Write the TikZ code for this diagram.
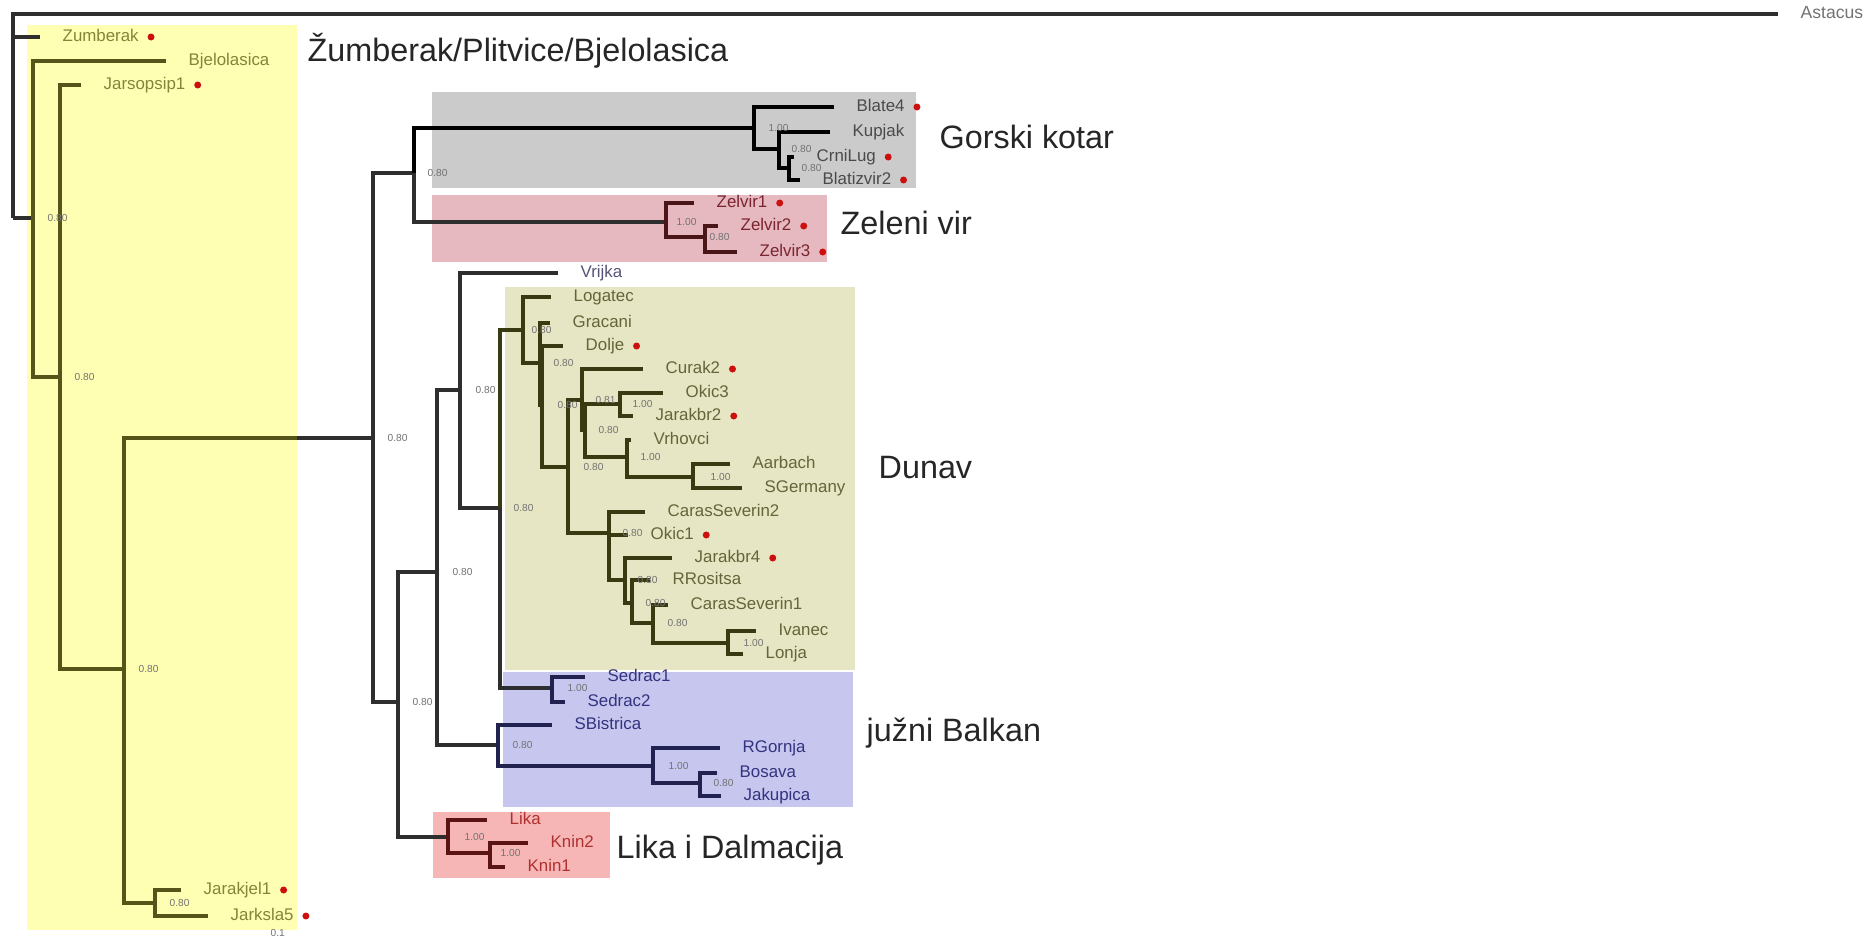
\documentclass[tikz,border=0pt]{standalone}
\usepackage{fontspec}
\setmainfont{Liberation Sans}
\usetikzlibrary{positioning}
\definecolor{cYel}{HTML}{FFFFB3}
\definecolor{cGrey}{HTML}{CBCBCB}
\definecolor{cZel}{HTML}{E6B9C1}
\definecolor{cDun}{HTML}{E6E6C4}
\definecolor{cBal}{HTML}{C6C6EE}
\definecolor{cLik}{HTML}{F7B6B6}
\definecolor{lDark}{HTML}{2E2E2E}
\definecolor{lYel}{HTML}{55551A}
\definecolor{lZel}{HTML}{4A1518}
\definecolor{lDun}{HTML}{3A3A12}
\definecolor{lBal}{HTML}{222250}
\definecolor{lLik}{HTML}{5A1414}
\definecolor{tYel}{HTML}{85853A}
\definecolor{tGrey}{HTML}{4A4A4A}
\definecolor{tZel}{HTML}{7A2530}
\definecolor{tDun}{HTML}{65653A}
\definecolor{tBal}{HTML}{333380}
\definecolor{tLik}{HTML}{B03030}
\definecolor{tVrj}{HTML}{55557A}
\definecolor{dotred}{HTML}{CC1010}
\tikzset{
  br/.style={line width=1pt, draw=lDark},
  ybr/.style={br, draw=lYel},
  gbr/.style={br, draw=black},
  zbr/.style={br, draw=lZel},
  dbr/.style={br, draw=lDun},
  bbr/.style={br, draw=lBal},
  lbr/.style={br, draw=lLik},
  leaf/.style={font=\fontsize{4.8}{5.5}\selectfont, anchor=west, inner xsep=2.2mm,
    inner ysep=0.3mm, text height=3.5pt, text depth=1pt},
  yleaf/.style={leaf, text=tYel},
  gleaf/.style={leaf, text=tGrey},
  zleaf/.style={leaf, text=tZel},
  dleaf/.style={leaf, text=tDun},
  bleaf/.style={leaf, text=tBal},
  lleaf/.style={leaf, text=tLik},
  dotm/.style={circle, fill=dotred, inner sep=0pt, minimum size=0.7mm},
  rd/.style={label={[dotm, xshift=-1.45mm]right:{}}},
  bs/.style={font=\fontsize{2.9}{3}\selectfont, inner sep=0pt, text=black!55},
  grp/.style={font=\fontsize{9.2}{11}\selectfont, anchor=mid west, inner sep=0pt, text=black!85}
}
\begin{document}
\begin{tikzpicture}[x=0.1mm,y=-0.1mm]
  \useasboundingbox (0,0) rectangle (1868,943);
  \fill[white] (0,0) rectangle (1868,943);

  % clade boxes
  \fill[cYel] (27,25) rectangle (297,930);
  \fill[cGrey] (432,92) rectangle (916,188);
  \fill[cZel] (432,195) rectangle (827,262);
  \fill[cDun] (505,287) rectangle (855,670);
  \fill[cBal] (503,672) rectangle (853,807);
  \fill[cLik] (433,812) rectangle (610,878);

  % internal nodes
  \coordinate (root) at (13,218);
  \coordinate (n33) at (33,218);
  \coordinate (n60) at (60,377);
  \coordinate (n124) at (124,669);
  \coordinate (njar) at (155,903);
  \coordinate (yedge) at (297,438);
  \coordinate (t) at (373,438);
  \coordinate (gz) at (414,173);
  \coordinate (gk) at (754,128);
  \coordinate (kup) at (779,149);
  \coordinate (crn) at (789,168);
  \coordinate (zel) at (666,222);
  \coordinate (zv2) at (705,237);
  \coordinate (m) at (398,702);
  \coordinate (k) at (437,572);
  \coordinate (lik) at (448,837);
  \coordinate (knin) at (490,853);
  \coordinate (v) at (460,390);
  \coordinate (sb) at (498,745);
  \coordinate (rg) at (653,766);
  \coordinate (bj) at (700,783);
  \coordinate (n500) at (500,508);
  \coordinate (sed) at (552,688);
  \coordinate (l) at (523,330);
  \coordinate (i) at (540,363);
  \coordinate (h) at (542,405);
  \coordinate (d5) at (568,467);
  \coordinate (c) at (582,400);
  \coordinate (dd) at (585,430);
  \coordinate (ok) at (620,404);
  \coordinate (vr) at (627,457);
  \coordinate (aa) at (693,477);
  \coordinate (cs) at (609,533);
  \coordinate (jk) at (625,580);
  \coordinate (rr) at (632,603);
  \coordinate (cs1) at (653,623);
  \coordinate (iv) at (728,643);

  % taxa
  \node[leaf, text=black!55, font=\fontsize{5}{6}\selectfont] (astacus) at (1778,14) {Astacus};
  \node[yleaf, rd] (zumberak) at (40,37) {Zumberak};
  \node[yleaf] (bjelolasica) at (166,61) {Bjelolasica};
  \node[yleaf, rd] (jarsopsip1) at (81,85) {Jarsopsip1};
  \node[yleaf, rd] (jarakjel1) at (181,890) {Jarakjel1};
  \node[yleaf, rd] (jarksla5) at (208,916) {Jarksla5};
  \node[gleaf, rd] (blate4) at (834,107) {Blate4};
  \node[gleaf] (kupjak) at (830,132) {Kupjak};
  \node[gleaf, rd] (crnilug) at (794,157) {CrniLug};
  \node[gleaf, rd] (blatizvir2) at (800,180) {Blatizvir2};
  \node[zleaf, rd] (zelvir1) at (694,203) {Zelvir1};
  \node[zleaf, rd] (zelvir2) at (718,226) {Zelvir2};
  \node[zleaf, rd] (zelvir3) at (737,252) {Zelvir3};
  \node[leaf, text=tVrj] (vrijka) at (558,273) {Vrijka};
  \node[dleaf] (logatec) at (551,297) {Logatec};
  \node[dleaf] (gracani) at (550,323) {Gracani};
  \node[dleaf, rd] (dolje) at (563,346) {Dolje};
  \node[dleaf, rd] (curak2) at (643,369) {Curak2};
  \node[dleaf] (okic3) at (663,393) {Okic3};
  \node[dleaf, rd] (jarakbr2) at (633,416) {Jarakbr2};
  \node[dleaf] (vrhovci) at (631,440) {Vrhovci};
  \node[dleaf] (aarbach) at (730,464) {Aarbach};
  \node[dleaf] (sgermany) at (742,488) {SGermany};
  \node[dleaf] (carasseverin2) at (645,512) {CarasSeverin2};
  \node[dleaf, rd] (okic1) at (628,535) {Okic1};
  \node[dleaf, rd] (jarakbr4) at (672,558) {Jarakbr4};
  \node[dleaf] (rrositsa) at (650,580) {RRositsa};
  \node[dleaf] (carasseverin1) at (668,605) {CarasSeverin1};
  \node[dleaf] (ivanec) at (756,631) {Ivanec};
  \node[dleaf] (lonja) at (743,654) {Lonja};
  \node[bleaf] (sedrac1) at (585,677) {Sedrac1};
  \node[bleaf] (sedrac2) at (565,702) {Sedrac2};
  \node[bleaf] (sbistrica) at (552,725) {SBistrica};
  \node[bleaf] (rgornja) at (720,748) {RGornja};
  \node[bleaf] (bosava) at (717,773) {Bosava};
  \node[bleaf] (jakupica) at (721,796) {Jakupica};
  \node[lleaf] (lika) at (487,820) {Lika};
  \node[lleaf] (knin2) at (528,843) {Knin2};
  \node[lleaf] (knin1) at (505,867) {Knin1};

  % branches
  \draw[br] (astacus) -| (root);
  \draw[br] (zumberak) -| (root);
  \draw[br] (n33) -| (root);
  \draw[ybr] (bjelolasica) -| (n33);
  \draw[ybr] (n60) -| (n33);
  \draw[ybr] (jarsopsip1) -| (n60);
  \draw[ybr] (n124) -| (n60);
  \draw[br] (t) -- (yedge);
  \draw[ybr] (yedge) -| (n124);
  \draw[ybr] (njar) -| (n124);
  \draw[ybr] (jarakjel1) -| (njar);
  \draw[ybr] (jarksla5) -| (njar);
  \draw[br] (gz) -| (t);
  \draw[br] (m) -| (t);
  \draw[gbr] (gk) -| (gz);
  \draw[br] (zel) -| (gz);
  \draw[gbr] (blate4) -| (gk);
  \draw[gbr] (kup) -| (gk);
  \draw[gbr] (kupjak) -| (kup);
  \draw[gbr] (crn) -| (kup);
  \draw[gbr] (crnilug) -| (crn);
  \draw[gbr] (blatizvir2) -| (crn);
  \draw[zbr] (zelvir1) -| (zel);
  \draw[zbr] (zv2) -| (zel);
  \draw[zbr] (zelvir2) -| (zv2);
  \draw[zbr] (zelvir3) -| (zv2);
  \draw[br] (k) -| (m);
  \draw[br] (lik) -| (m);
  \draw[lbr] (lika) -| (lik);
  \draw[lbr] (knin) -| (lik);
  \draw[lbr] (knin2) -| (knin);
  \draw[lbr] (knin1) -| (knin);
  \draw[br] (v) -| (k);
  \draw[br] (sb) -| (k);
  \draw[bbr] (sbistrica) -| (sb);
  \draw[bbr] (rg) -| (sb);
  \draw[bbr] (rgornja) -| (rg);
  \draw[bbr] (bj) -| (rg);
  \draw[bbr] (bosava) -| (bj);
  \draw[bbr] (jakupica) -| (bj);
  \draw[br] (vrijka) -| (v);
  \draw[br] (n500) -| (v);
  \draw[dbr] (l) -| (n500);
  \draw[br] (sed) -| (n500);
  \draw[bbr] (sedrac1) -| (sed);
  \draw[bbr] (sedrac2) -| (sed);
  \draw[dbr] (logatec) -| (l);
  \draw[dbr] (i) -| (l);
  \draw[dbr] (gracani) -| (i);
  \draw[dbr] (h) -| (i);
  \draw[dbr] (dolje) -| (h);
  \draw[dbr] (d5) -| (h);
  \draw[dbr] (c) -| (d5);
  \draw[dbr] (cs) -| (d5);
  \draw[dbr] (curak2) -| (c);
  \draw[dbr] (dd) -| (c);
  \draw[dbr] (ok) -| (dd);
  \draw[dbr] (vr) -| (dd);
  \draw[dbr] (okic3) -| (ok);
  \draw[dbr] (jarakbr2) -| (ok);
  \draw[dbr] (vrhovci) -| (vr);
  \draw[dbr] (aa) -| (vr);
  \draw[dbr] (aarbach) -| (aa);
  \draw[dbr] (sgermany) -| (aa);
  \draw[dbr] (carasseverin2) -| (cs);
  \draw[dbr] (okic1) -| (cs);
  \draw[dbr] (jk) -| (cs);
  \draw[dbr] (jarakbr4) -| (jk);
  \draw[dbr] (rr) -| (jk);
  \draw[dbr] (rrositsa) -| (rr);
  \draw[dbr] (cs1) -| (rr);
  \draw[dbr] (carasseverin1) -| (cs1);
  \draw[dbr] (iv) -| (cs1);
  \draw[dbr] (ivanec) -| (iv);
  \draw[dbr] (lonja) -| (iv);

  % support values
  \node[bs, right=1.4mm of n33] (s-n33) {0.80};
  \node[bs, right=1.4mm of n60] (s-n60) {0.80};
  \node[bs, right=1.4mm of n124] (s-n124) {0.80};
  \node[bs, right=1.4mm of njar] (s-njar) {0.80};
  \node[bs, right=1.4mm of t] (s-t) {0.80};
  \node[bs, right=1.3mm of gz] (s-gz) {0.80};
  \node[bs, right=1.4mm of gk] (s-gk) {1.00};
  \node[bs, right=1.2mm of kup] (s-kup) {0.80};
  \node[bs, right=1.2mm of crn] (s-crn) {0.80};
  \node[bs, right=1.0mm of zel] (s-zel) {1.00};
  \node[bs, right=0.4mm of zv2] (s-zv2) {0.80};
  \node[bs, right=1.4mm of m] (s-m) {0.80};
  \node[bs, right=1.5mm of k] (s-k) {0.80};
  \node[bs, right=1.6mm of lik] (s-lik) {1.00};
  \node[bs, right=1.0mm of knin] (s-knin) {1.00};
  \node[bs, right=1.5mm of v] (s-v) {0.80};
  \node[bs, right=1.4mm of sb] (s-sb) {0.80};
  \node[bs, right=1.5mm of rg] (s-rg) {1.00};
  \node[bs, right=1.3mm of bj] (s-bj) {0.80};
  \node[bs, right=1.3mm of n500] (s-n500) {0.80};
  \node[bs, right=1.5mm of sed] (s-sed) {1.00};
  \node[bs, right=0.8mm of l] (s-l) {0.80};
  \node[bs, right=1.3mm of i] (s-i) {0.80};
  \node[bs, right=1.5mm of h] (s-h) {0.80};
  \node[bs, right=1.5mm of d5] (s-d5) {0.80};
  \node[bs, right=1.3mm of c] (s-c) {0.81};
  \node[bs, right=1.3mm of dd] (s-dd) {0.80};
  \node[bs, right=1.2mm of ok] (s-ok) {1.00};
  \node[bs, right=1.3mm of vr] (s-vr) {1.00};
  \node[bs, right=1.7mm of aa] (s-aa) {1.00};
  \node[bs, right=1.3mm of cs] (s-cs) {0.80};
  \node[bs, right=1.2mm of jk] (s-jk) {0.80};
  \node[bs, right=1.3mm of rr] (s-rr) {0.80};
  \node[bs, right=1.4mm of cs1] (s-cs1) {0.80};
  \node[bs, right=1.5mm of iv] (s-iv) {1.00};
  \node[bs, anchor=west] (scalelbl) at (270,933) {0.1};

  % clade names
  \node[grp] (g-zum) at (307,52) {Žumberak/Plitvice/Bjelolasica};
  \node[grp] (g-gor) at (939,139) {Gorski kotar};
  \node[grp] (g-zel) at (840,225) {Zeleni vir};
  \node[grp] (g-dun) at (878,469) {Dunav};
  \node[grp] (g-bal) at (866,732) {južni Balkan};
  \node[grp] (g-lik) at (616,849) {Lika i Dalmacija};
\end{tikzpicture}
\end{document}
